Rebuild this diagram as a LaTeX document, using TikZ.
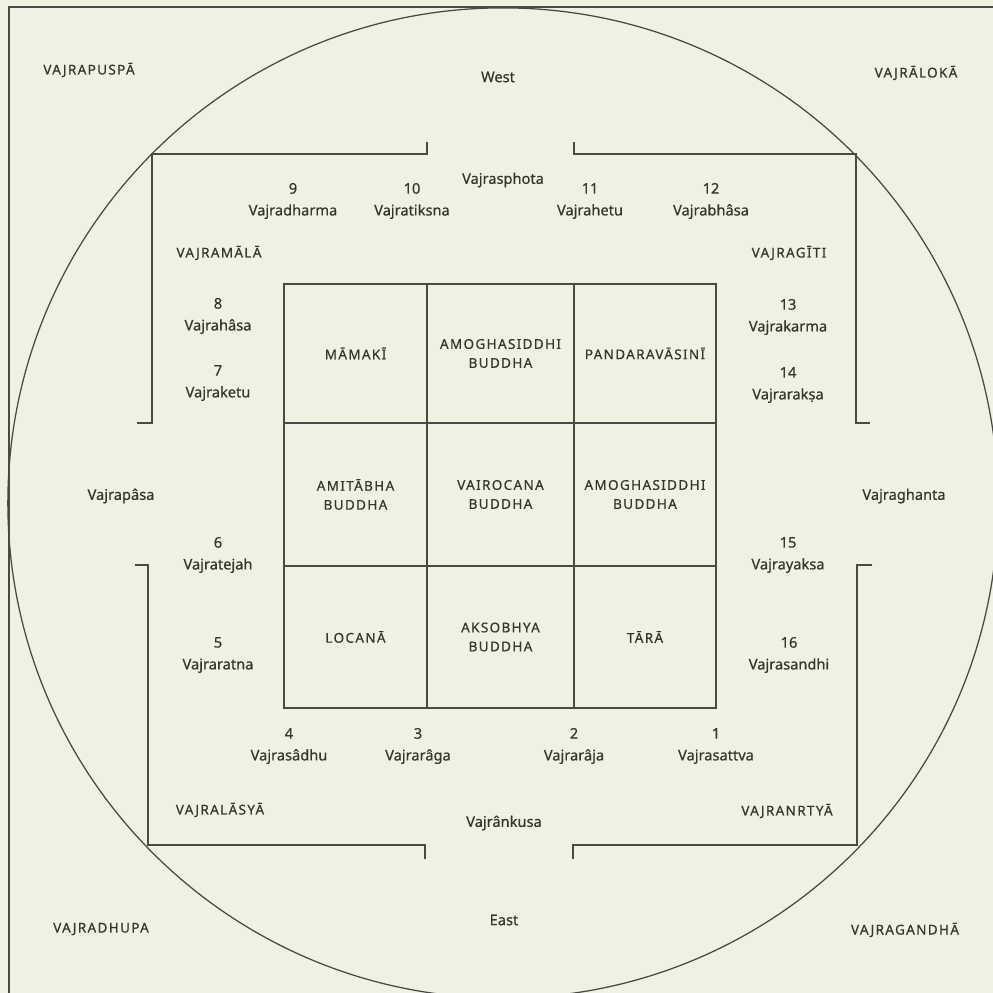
\documentclass[tikz,border=0pt]{standalone}
\usepackage{fontspec}
\setmainfont{Noto Sans}[FakeBold=0.5]
\definecolor{bg}{HTML}{F0F1E3}
\definecolor{ink}{HTML}{4A4A44}
\definecolor{txt}{HTML}{36362F}
\begin{document}
\begin{tikzpicture}[x=0.025cm,y=-0.025cm,
  lab/.style={font=\fontsize{10.4}{15.5}\selectfont, text=txt, align=center, inner sep=0pt},
  caps/.style={font=\fontsize{9.6}{13.5}\selectfont\addfontfeature{LetterSpace=10}, text=txt, align=center, inner sep=0pt},
  cell/.style={draw=ink, line width=1pt, inner sep=0pt, outer sep=0pt, align=center,
     font=\fontsize{9.6}{13.5}\selectfont\addfontfeature{LetterSpace=10}, text=txt},
  wall/.style={draw=ink, line width=1.1pt, line cap=butt, line join=miter},
  circ/.style={draw=ink, line width=0.9pt}]
\useasboundingbox (0,0) rectangle (993,993);
\fill[bg] (0,0) rectangle (993,993);
\begin{scope}
  \clip (0,0) rectangle (993,993);
  \draw[circ] (503,503) circle[radius=12.375cm];
  \draw[wall] (993,7) -- (9,7) -- (9,993);
\end{scope}

% brackets
\draw[wall] (427,142) -- (427,154) -- (152,154) -- (152,423) -- (137,423);
\draw[wall] (574,142) -- (574,154) -- (856,154) -- (856,423) -- (870,423);
\draw[wall] (135,565) -- (148,565) -- (148,845) -- (425,845) -- (425,859);
\draw[wall] (872,565) -- (857,565) -- (857,845) -- (573,845) -- (573,859);

% grid cells
\node[cell, minimum width=3.575cm, minimum height=3.475cm] (c11) at (355.5,353.5) {MĀMAKĪ};
\node[cell, minimum width=3.675cm, minimum height=3.475cm] (c12) at (500.5,353.5) {AMOGHASIDDHI\\BUDDHA};
\node[cell, minimum width=3.55cm, minimum height=3.475cm] (c13) at (645,353.5) {PANDARAVĀSINĪ};
\node[cell, minimum width=3.575cm, minimum height=3.575cm] (c21) at (355.5,494.5) {AMITĀBHA\\BUDDHA};
\node[cell, minimum width=3.675cm, minimum height=3.575cm] (c22) at (500.5,494.5) {VAIROCANA\\BUDDHA};
\node[cell, minimum width=3.55cm, minimum height=3.575cm] (c23) at (645,494.5) {AMOGHASIDDHI\\BUDDHA};
\node[cell, minimum width=3.575cm, minimum height=3.55cm] (c31) at (355.5,637) {LOCANĀ};
\node[cell, minimum width=3.675cm, minimum height=3.55cm] (c32) at (500.5,637) {AKSOBHYA\\BUDDHA};
\node[cell, minimum width=3.55cm, minimum height=3.55cm] (c33) at (645,637) {TĀRĀ};

% corner and gate labels
\node[caps] (pus) at (89,70) {VAJRAPUSPĀ};
\node[caps] (alo) at (916,73) {VAJRĀLOKĀ};
\node[caps] (dhu) at (101,929) {VAJRADHUPA};
\node[caps] (gan) at (905,930) {VAJRAGANDHĀ};
\node[caps] (mal) at (219,253) {VAJRAMĀLĀ};
\node[caps] (git) at (789,253) {VAJRAGĪTI};
\node[caps] (las) at (220,810) {VAJRALĀSYĀ};
\node[caps] (nrt) at (787,811) {VAJRANRTYĀ};

\node[lab] (west) at (498,77) {West};
\node[lab] (east) at (504,920) {East};
\node[lab] (sph) at (503,180) {Vajrasphota};
\node[lab] (ank) at (504,823) {Vajrânkusa};
\node[lab] (pas) at (121,496) {Vajrapâsa};
\node[lab] (gha) at (904,496) {Vajraghanta};

% numbered deities
\node[lab] (n9) at (293,201) {9\\Vajradharma};
\node[lab] (n10) at (412,201) {10\\Vajratiksna};
\node[lab] (n11) at (590,201) {11\\Vajrahetu};
\node[lab] (n12) at (711,201) {12\\Vajrabhâsa};
\node[lab] (n8) at (218,316) {8\\Vajrahâsa};
\node[lab] (n7) at (218,383) {7\\Vajraketu};
\node[lab] (n6) at (218,555) {6\\Vajratejah};
\node[lab] (n5) at (218,655) {5\\Vajraratna};
\node[lab] (n13) at (788,317) {13\\Vajrakarma};
\node[lab] (n14) at (788,385) {14\\Vajrarakṣa};
\node[lab] (n15) at (788,555) {15\\Vajrayaksa};
\node[lab] (n16) at (789,655) {16\\Vajrasandhi};
\node[lab] (n4) at (289,746) {4\\Vajrasâdhu};
\node[lab] (n3) at (418,746) {3\\Vajrarâga};
\node[lab] (n2) at (574,746) {2\\Vajrarâja};
\node[lab] (n1) at (716,746) {1\\Vajrasattva};
\end{tikzpicture}
\end{document}
